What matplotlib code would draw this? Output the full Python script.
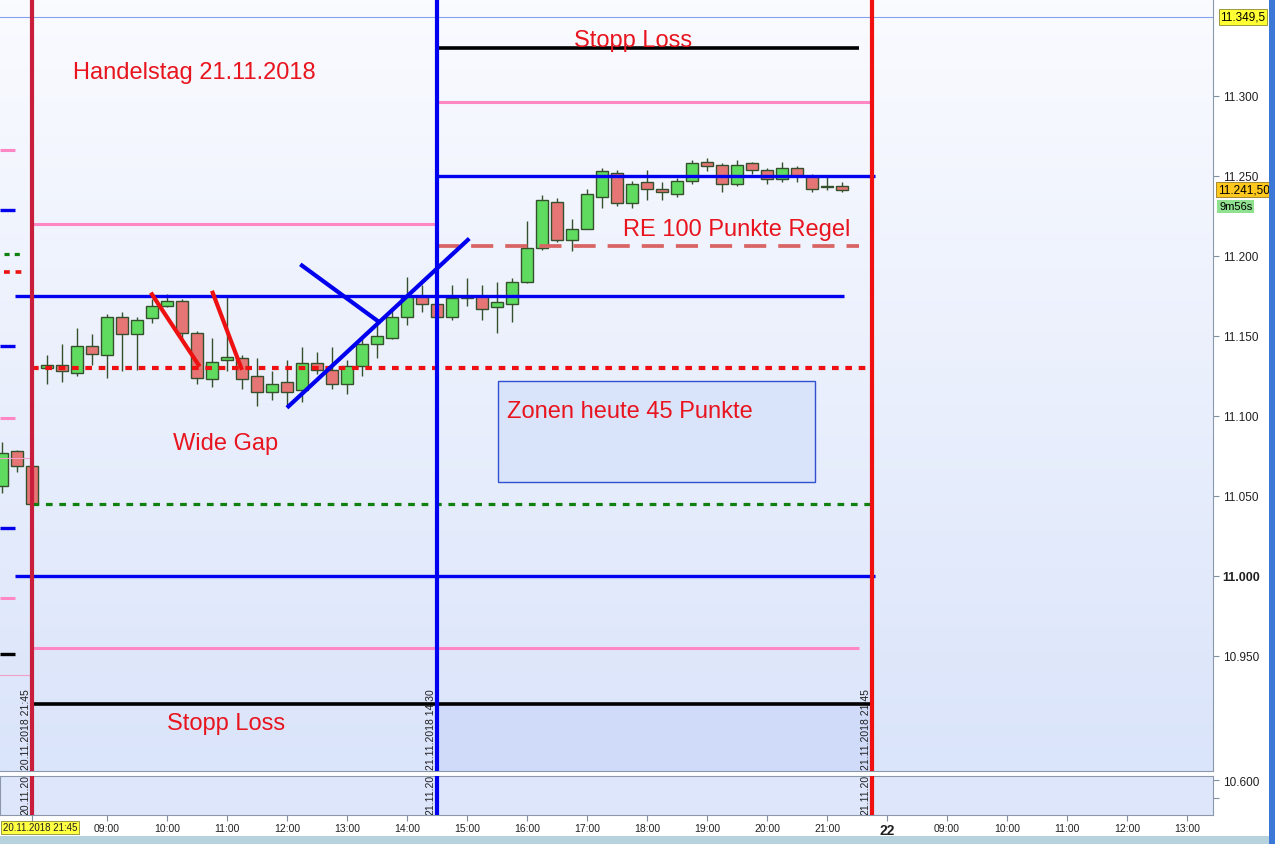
import numpy as np
import matplotlib.pyplot as plt
from matplotlib.patches import Rectangle
from matplotlib.colors import LinearSegmentedColormap
from matplotlib.transforms import blended_transform_factory

plt.rcParams['font.family'] = ['Liberation Sans', 'DejaVu Sans']

# bars are counted in 15 minute steps, bar 0 = 21.11.2018 08:00
bar_idx = list(range(-3, 54))
opens = [11056, 11078, 11069,
         11130, 11132, 11127, 11144, 11138, 11162, 11151, 11161, 11169, 11172,
         11152, 11123, 11135, 11136, 11125, 11115, 11121, 11116, 11133, 11129,
         11120, 11131, 11145, 11149, 11162, 11175, 11170, 11162, 11174, 11175,
         11168, 11170, 11184, 11205, 11234, 11210, 11217, 11237, 11252, 11233,
         11246, 11242, 11239, 11247, 11259, 11257, 11245, 11258, 11254, 11248,
         11255, 11250, 11243, 11244]
highs = [11084, 11079, 11069,
         11138, 11145, 11155, 11151, 11164, 11165, 11162, 11173, 11176, 11173,
         11153, 11149, 11175, 11138, 11136, 11128, 11135, 11143, 11140, 11143,
         11135, 11148, 11158, 11167, 11187, 11182, 11172, 11182, 11186, 11182,
         11184, 11186, 11222, 11238, 11236, 11223, 11242, 11255, 11254, 11247,
         11254, 11246, 11249, 11260, 11261, 11258, 11260, 11259, 11255, 11259,
         11256, 11251, 11250, 11246]
lows = [11052, 11065, 11044,
        11120, 11121, 11125, 11132, 11124, 11128, 11129, 11158, 11168, 11148,
        11120, 11118, 11128, 11117, 11106, 11110, 11106, 11109, 11126, 11117,
        11114, 11125, 11136, 11148, 11157, 11165, 11160, 11160, 11169, 11160,
        11152, 11159, 11183, 11204, 11209, 11203, 11217, 11230, 11231, 11230,
        11235, 11235, 11237, 11245, 11253, 11240, 11244, 11251, 11245, 11246,
        11246, 11240, 11241, 11240]
closes = [11077, 11069, 11045,
          11132, 11128, 11144, 11139, 11162, 11151, 11160, 11169, 11172, 11152,
          11124, 11134, 11137, 11123, 11115, 11120, 11115, 11133, 11129, 11120,
          11131, 11145, 11150, 11162, 11175, 11170, 11162, 11174, 11175, 11167,
          11171, 11184, 11205, 11235, 11210, 11217, 11239, 11253, 11233, 11245,
          11242, 11240, 11247, 11258, 11256, 11245, 11257, 11254, 11248, 11255,
          11250, 11242, 11243, 11241.5]

# session markers (bar index)
prev_close_bar = -1
mid_bar = 26
close_bar = 55

# today's levels: price, first bar, last bar
pink_levels = [11296, 11220, 10955]
pink_spans = [(26, 55), (-1, 26), (-1, 54.1)]
blue_levels = [11250, 11175, 11000]
blue_spans = [(26, 55.2), (-2.1, 53.1), (-2.1, 55.2)]
stop_levels = [11330, 10920]
stop_spans = [(26, 54.1), (-1, 55)]
re_level = 11206
re_span = (26, 54.1)
red_dot_level = 11130
green_dot_level = 11045
dot_span = (-1, 55)

# yesterday's levels, only their right ends are still visible
old_pink = [11266, 11099, 10986]
old_blue = [11229, 11144, 11030]
old_black = [10951]
old_green_dot = [11201]
old_red_dot = [11190]
old_thin_pink = [11074, 10938]

# drawn lines: (bar, price) -> (bar, price)
red_strokes = [((7.0, 11176), (10.1, 11132)), ((11.05, 11177), (12.95, 11130))]
blue_strokes = [((16.1, 11106), (28.05, 11210)), ((17.0, 11194), (22.1, 11159))]

zone_box = (30.1, 51.2, 11059, 11122)

price_ticks = [10950, 11000, 11050, 11100, 11150, 11200, 11250, 11300]
max_price = 11349.5
last_price = 11241.5

time_ticks = [-1, 4, 8, 12, 16, 20, 24, 28, 32, 36, 40, 44, 48, 52, 56, 60, 64, 68, 72, 76]
time_labels = ['', '09:00', '10:00', '11:00', '12:00', '13:00', '14:00',
               '15:00', '16:00', '17:00', '18:00', '19:00', '20:00', '21:00', '22',
               '09:00', '10:00', '11:00', '12:00', '13:00']
start_label = '20.11.2018 21:45'

vlabels = ['20.11.2018 21:45', '21.11.2018 14:30', '21.11.2018 21:45']
vlabels_short = ['20.11.20', '21.11.20', '21.11.20']

W, H = 1275, 845
fig = plt.figure(figsize=(W / 100, H / 100), dpi=100)
fig.patch.set_facecolor('white')
ax = fig.add_axes([0, 1 - 772 / H, 1213 / W, 772 / H])
ax2 = fig.add_axes([0, 1 - 816 / H, 1213 / W, 39 / H], sharex=ax)

xmin, xmax = -3.13, 77.73
ymin, ymax = 10878.1, 11360.6
ax.set_xlim(xmin, xmax)
ax.set_ylim(ymin, ymax)

bg = LinearSegmentedColormap.from_list('bg', ['#fafbff', '#dae4fa'])
ax.imshow(np.linspace(0, 1, 256).reshape(-1, 1), cmap=bg, extent=[xmin, xmax, ymin, ymax],
          aspect='auto', origin='upper', zorder=0)

# shaded area below the lower stop
ax.add_patch(Rectangle((mid_bar, ymin), close_bar - mid_bar, stop_levels[1] - ymin,
                       facecolor='#cfdbf8', edgecolor='none', zorder=0.5))

# candles
edge = '#35502c'
body_col = ['#5fdc5f' if c >= o else '#e67676' for o, c in zip(opens, closes)]
ax.vlines(bar_idx, lows, highs, color=edge, lw=1, zorder=2)
ax.bar(bar_idx, [max(abs(c - o), 0.7) for o, c in zip(opens, closes)],
       bottom=[min(o, c) for o, c in zip(opens, closes)], width=0.8,
       color=body_col, edgecolor=edge, linewidth=1, zorder=3)

# top marker line
ax.axhline(max_price, color='#85a2ec', lw=0.8, zorder=1)

# zone box
ax.add_patch(Rectangle((zone_box[0], zone_box[2]), zone_box[1] - zone_box[0],
                       zone_box[3] - zone_box[2], facecolor='#d9e4fb',
                       edgecolor='#3050d0', lw=1, zorder=1.5))

# old levels
for p in old_pink:
    ax.plot([xmin, -2.1], [p, p], color='#ff88c4', lw=2.2, solid_capstyle='butt', zorder=4)
for p in old_blue:
    ax.plot([xmin, -2.1], [p, p], color='#0000ee', lw=2.4, solid_capstyle='butt', zorder=4)
for p in old_black:
    ax.plot([xmin, -2.1], [p, p], color='black', lw=2.4, solid_capstyle='butt', zorder=4)
for p in old_thin_pink:
    ax.plot([xmin, -1], [p, p], color='#f4a0c8', lw=0.8, zorder=4)
for p in old_green_dot:
    ax.plot([-2.85, -1.5], [p, p], color='#108010', lw=2.3, ls=(0, (1.6, 1.6)), zorder=4)
for p in old_red_dot:
    ax.plot([-2.85, -1.5], [p, p], color='#ee1111', lw=2.6, ls=(0, (1.6, 1.6)), zorder=4)

# today's levels
for p, (a, b) in zip(pink_levels, pink_spans):
    ax.plot([a, b], [p, p], color='#ff88c4', lw=2.2, solid_capstyle='butt', zorder=4)
for p, (a, b) in zip(stop_levels, stop_spans):
    ax.plot([a, b], [p, p], color='black', lw=2.6, solid_capstyle='butt', zorder=4)
ax.plot(list(re_span), [re_level, re_level], color='#d96464', lw=2.7,
        ls=(0, (5.9, 3.2)), zorder=4)
ax.plot(list(dot_span), [red_dot_level, red_dot_level], color='#ee1111', lw=3,
        ls=(0, (1.6, 1.6)), zorder=4)
ax.plot(list(dot_span), [green_dot_level, green_dot_level], color='#108010', lw=2.3,
        ls=(0, (2.1, 2.1)), zorder=4)
for p, (a, b) in zip(blue_levels, blue_spans):
    ax.plot([a, b], [p, p], color='#0000ee', lw=2.4, solid_capstyle='butt', zorder=5)

for (x0, y0), (x1, y1) in red_strokes:
    ax.plot([x0, x1], [y0, y1], color='#ee1111', lw=3, zorder=6)
for (x0, y0), (x1, y1) in blue_strokes:
    ax.plot([x0, x1], [y0, y1], color='#0000ee', lw=3, zorder=6)

# session verticals in both panes
for a in (ax, ax2):
    a.axvline(prev_close_bar, color='#c81e3c', lw=3, zorder=7)
    a.axvline(mid_bar, color='#0000f0', lw=3, zorder=7)
    a.axvline(close_bar, color='#f01010', lw=3, zorder=7)

for xb, txt in zip([prev_close_bar, mid_bar, close_bar], vlabels):
    ax.text(xb - 0.42, ymin + 1, txt, rotation=90, ha='center', va='bottom',
            fontsize=7.5, color='#202020', zorder=8)

red = '#e8141e'
ax.text(1.73, 11311, 'Handelstag 21.11.2018', color=red, fontsize=17, va='baseline', zorder=9)
ax.text(39.07, 11331.5, 'Stopp Loss', color=red, fontsize=17, ha='center', va='baseline', zorder=9)
ax.text(38.4, 11213, 'RE 100 Punkte Regel', color=red, fontsize=17, va='baseline', zorder=9)
ax.text(30.67, 11099.5, 'Zonen heute 45 Punkte', color=red, fontsize=17, va='baseline', zorder=9)
ax.text(8.4, 11079.5, 'Wide Gap', color=red, fontsize=17, va='baseline', zorder=9)
ax.text(8.0, 10904.5, 'Stopp Loss', color=red, fontsize=17, va='baseline', zorder=9)

# right price axis
ax.yaxis.tick_right()
ax.set_yticks(price_ticks)
ax.set_yticklabels([f'{v:,.0f}'.replace(',', '.') for v in price_ticks])
ax.tick_params(axis='y', length=4, width=0.8, color='#8090a0', labelsize=8.5,
               labelcolor='#202020', pad=3)
for t, v in zip(ax.get_yticklabels(), price_ticks):
    if v == 11000:
        t.set_fontweight('bold')
        t.set_fontsize(9)
ax.tick_params(axis='x', bottom=False, labelbottom=False)
for s in ['top', 'left']:
    ax.spines[s].set_visible(False)
for s in ['right', 'bottom']:
    ax.spines[s].set_color('#8a98aa')

bt = blended_transform_factory(ax.transAxes, ax.transData)
ax.text(1.006, max_price, '11.349,5', transform=bt, fontsize=8.5, va='center', ha='left',
        bbox=dict(boxstyle='square,pad=0.15', fc='#ffff33', ec='#8a8a30', lw=0.6),
        clip_on=False, zorder=10)
ax.text(1.004, last_price, '11.241,50', transform=bt, fontsize=8.5, va='center', ha='left',
        bbox=dict(boxstyle='square,pad=0.15', fc='#ffc81e', ec='#9a7a20', lw=0.6),
        clip_on=False, zorder=10)
ax.annotate('9m56s', xy=(1.005, last_price), xycoords=bt, xytext=(0, -12),
            textcoords='offset points', fontsize=8, va='center', ha='left',
            bbox=dict(boxstyle='square,pad=0.15', fc='#8fe08f', ec='none'),
            annotation_clip=False, zorder=10)

# lower pane
ax2.set_facecolor('#dde6fb')
ax2.set_ylim(10405, 10625)
ax2.yaxis.tick_right()
ax2.set_yticks([10500, 10600])
ax2.set_yticklabels(['', '10.600'])
ax2.tick_params(axis='y', length=4, width=0.8, color='#8090a0', labelsize=8.5,
                labelcolor='#202020', pad=3)
for xb, txt in zip([prev_close_bar, mid_bar, close_bar], vlabels_short):
    ax2.text(xb - 0.42, 10408, txt, rotation=90, ha='center', va='bottom',
             fontsize=7.5, color='#202020', zorder=8, clip_on=True)
ax2.set_xticks(time_ticks)
ax2.set_xticklabels(time_labels)
ax2.tick_params(axis='x', length=4, width=0.8, color='#8090a0', labelsize=7.5,
                labelcolor='#202020', pad=2)
for t, lab in zip(ax2.get_xticklabels(), time_labels):
    if lab == '22':
        t.set_fontweight('bold')
        t.set_fontsize(10)
for s in ax2.spines.values():
    s.set_color('#8a98aa')

# start date label in a yellow box at the left end of the time axis
ax2.annotate(start_label, xy=(0, 0), xycoords='axes fraction', xytext=(2, -9),
             textcoords='offset points', fontsize=7, ha='left', va='center',
             color='#202020', annotation_clip=False,
             bbox=dict(boxstyle='square,pad=0.15', fc='#ffff44', ec='#8a8a30', lw=0.6))

# window frame bits
fig.patches.append(Rectangle((0, 0), 1, 8 / H, transform=fig.transFigure,
                             facecolor='#b6d2dc', edgecolor='none'))
fig.patches.append(Rectangle((1269 / W, 0), 6 / W, 1, transform=fig.transFigure,
                             facecolor='#3c78d8', edgecolor='none'))

fig.savefig('out.png', dpi=100)
